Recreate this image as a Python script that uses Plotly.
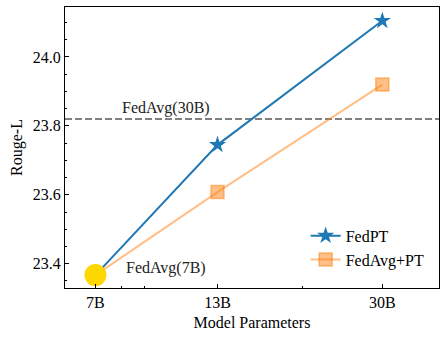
import plotly.graph_objects as go

# Model sizes (billions) and their tick labels
params = [7, 13, 30]
param_labels = ["7B", "13B", "30B"]

# Rouge-L scores
fedpt = [23.367, 23.745, 24.105]
fedavg_pt = [23.367, 23.608, 23.92]
fedavg_7b = 23.367
fedavg_30b = 23.82

FONT = "Liberation Serif"
BLUE = "#1f77b4"
ORANGE = "rgba(255,127,14,0.5)"

fig = go.Figure()

fig.add_shape(
    type="line", xref="paper", x0=0, x1=1, yref="y", y0=fedavg_30b, y1=fedavg_30b,
    line=dict(color="#808080", width=2, dash="7px,3px"), layer="below",
)

fig.add_trace(
    go.Scatter(
        x=params, y=fedpt, mode="lines+markers", name="FedPT",
        line=dict(color=BLUE, width=2),
        marker=dict(symbol="star", size=13, color=BLUE),
    )
)
fig.add_trace(
    go.Scatter(
        x=params, y=fedavg_pt, mode="lines+markers", name="FedAvg+PT",
        line=dict(color=ORANGE, width=2),
        marker=dict(symbol="square", size=13, color=ORANGE,
                    line=dict(color=ORANGE, width=1.5)),
    )
)
# starting point shared by both methods
fig.add_trace(
    go.Scatter(
        x=[params[0]], y=[fedavg_7b], mode="markers", showlegend=False,
        marker=dict(symbol="circle", size=22, color="#ffd700"),
    )
)

fig.add_annotation(x=1.0, y=fedavg_30b, yshift=0, text="FedAvg(30B)", showarrow=False,
                   yanchor="bottom", font=dict(family=FONT, size=16, color="#222"))
fig.add_annotation(x=1.0, y=23.388, text="FedAvg(7B)", showarrow=False,
                   font=dict(family=FONT, size=16, color="#222"))

fig.update_layout(
    width=446, height=340,
    template="none",
    paper_bgcolor="white", plot_bgcolor="white",
    font=dict(family=FONT, size=16, color="black"),
    margin=dict(l=65, r=7, t=7, b=52),
    showlegend=True,
    legend=dict(x=0.975, y=0.04, xanchor="right", yanchor="bottom",
                bgcolor="rgba(0,0,0,0)", font=dict(size=16), tracegroupgap=0),
)
fig.update_xaxes(
    type="log", range=[0.778, 1.602], automargin=False,
    tickvals=params, ticktext=param_labels,
    ticks="inside", ticklen=4, tickcolor="black", tickwidth=1,
    minor=dict(tickvals=[8, 9, 20], ticks="inside", ticklen=2, tickcolor="black"),
    showline=True, linecolor="black", linewidth=1.3, mirror=True,
    showgrid=False, zeroline=False,
    title=dict(text="Model Parameters", standoff=6, font=dict(size=16)),
)
fig.update_yaxes(
    range=[23.3296, 24.145], automargin=False,
    tickvals=[23.4, 23.6, 23.8, 24.0], ticktext=["23.4", "23.6", "23.8", "24.0"],
    ticks="inside", ticklen=4, tickcolor="black", tickwidth=1,
    minor=dict(dtick=0.05, tick0=23.4, ticks="inside", ticklen=2, tickcolor="black"),
    showline=True, linecolor="black", linewidth=1.3, mirror=True,
    showgrid=False, zeroline=False,
    title=dict(text="Rouge-L", standoff=6, font=dict(size=16)),
)

fig.write_html(
    "out.html",
    config={"displayModeBar": False},
    post_script="document.body.style.margin = '0';",
)
